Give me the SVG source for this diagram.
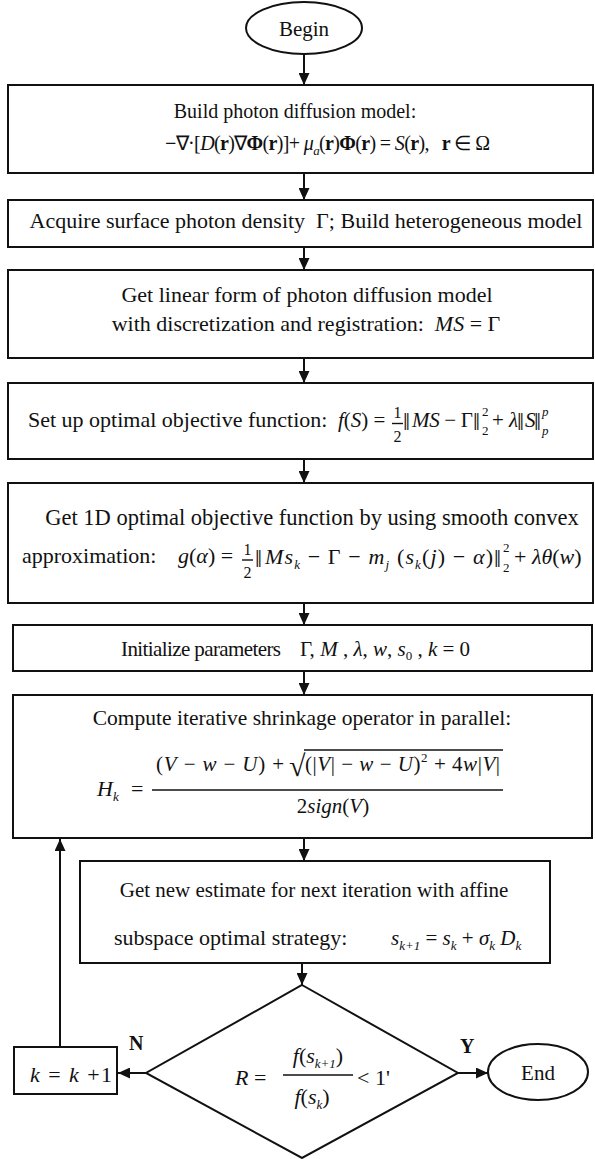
<svg xmlns="http://www.w3.org/2000/svg" width="595" height="1159" viewBox="0 0 595 1159">
<defs>
<marker id="ah" viewBox="0 0 12 11" refX="12" refY="5.5" markerWidth="12" markerHeight="11" markerUnits="userSpaceOnUse" orient="auto">
<path d="M0,0 L12,5.5 L0,11 z" fill="#111"/>
</marker>
</defs>
<style>
.b{fill:#fff;stroke:#111;stroke-width:2}
.t{font-family:"Liberation Serif","Times New Roman",serif;font-size:22px;fill:#111}
.i{font-style:italic}
.bd{font-weight:bold}
.s{font-size:13px}
.fr{font-size:16px}
.nb{font-size:25px}
.c{stroke:#111;stroke-width:2;fill:none}
.ln{stroke:#111;stroke-width:1.4}
</style>
<rect width="595" height="1159" fill="#fff"/>

<g id="connectors">
<line class="c" x1="304" y1="54" x2="304" y2="85" marker-end="url(#ah)"/>
<line class="c" x1="304" y1="173" x2="304" y2="200" marker-end="url(#ah)"/>
<line class="c" x1="304" y1="247" x2="304" y2="270" marker-end="url(#ah)"/>
<line class="c" x1="304" y1="358" x2="304" y2="383" marker-end="url(#ah)"/>
<line class="c" x1="304" y1="459" x2="304" y2="483" marker-end="url(#ah)"/>
<line class="c" x1="304" y1="603" x2="304" y2="625" marker-end="url(#ah)"/>
<line class="c" x1="304" y1="671" x2="304" y2="695" marker-end="url(#ah)"/>
<line class="c" x1="304" y1="838" x2="304" y2="861" marker-end="url(#ah)"/>
<line class="c" x1="302" y1="963" x2="302" y2="985" marker-end="url(#ah)"/>
<line class="c" x1="146" y1="1073" x2="118" y2="1073" marker-end="url(#ah)"/>
<line class="c" x1="458" y1="1073" x2="488" y2="1073" marker-end="url(#ah)"/>
<line class="c" x1="60" y1="1047" x2="60" y2="839" marker-end="url(#ah)"/>
<text class="t bd" x="129" y="1050" style="font-size:20px">N</text>
<text class="t bd" x="460" y="1053" style="font-size:20px">Y</text>
</g>

<g id="begin">
<ellipse class="b" cx="304" cy="28" rx="58" ry="26"/>
<text class="t" x="304" y="36" text-anchor="middle" style="font-size:21px">Begin</text>
</g>

<g id="build-model">
<rect class="b" x="8" y="85" width="585" height="88"/>
<text class="t" x="295" y="118" text-anchor="middle" style="font-size:20px">Build photon diffusion model:</text>
<text class="t" x="165" y="150" style="font-size:20px" textLength="325" lengthAdjust="spacing"><tspan class="bd">−</tspan>∇·[<tspan class="i">D</tspan>(<tspan class="bd">r</tspan>)∇<tspan class="bd">Φ</tspan>(<tspan class="bd">r</tspan>)]+ <tspan class="i">μ</tspan><tspan class="i s" dy="5">a</tspan><tspan dy="-5">(</tspan><tspan class="bd">r</tspan>)<tspan class="bd">Φ</tspan>(<tspan class="bd">r</tspan>) = <tspan class="i">S</tspan>(<tspan class="bd">r</tspan>),&#160;&#160;&#160;<tspan class="bd">r</tspan> ∈ Ω</text>
</g>

<g id="acquire">
<rect class="b" x="8" y="200" width="585" height="47"/>
<text class="t" x="306" y="228" text-anchor="middle">Acquire surface photon density&#160;&#160;Γ; Build heterogeneous model</text>
</g>

<g id="linear-form">
<rect class="b" x="8" y="270" width="585" height="88"/>
<text class="t" x="307" y="302" text-anchor="middle">Get linear form of photon diffusion model</text>
<text class="t" x="306" y="331" text-anchor="middle">with discretization and registration:&#160;&#160;<tspan class="i">MS</tspan> = Γ</text>
</g>

<g id="objective">
<rect class="b" x="8" y="383" width="585" height="76"/>
<text class="t" x="28" y="427">Set up optimal objective function:</text>
<text class="t" x="338" y="427" style="font-size:21px"><tspan class="i">f</tspan>(<tspan class="i">S</tspan>) =</text>
<text class="t fr" x="397.5" y="418" text-anchor="middle">1</text>
<line class="ln" x1="392" y1="423.5" x2="403" y2="423.5"/>
<text class="t fr" x="397.5" y="442" text-anchor="middle">2</text>
<text class="t nb" x="403" y="430">‖</text>
<text class="t" x="412" y="427" style="font-size:21px" textLength="61" lengthAdjust="spacing"><tspan class="i">MS</tspan> − Γ</text>
<text class="t nb" x="473" y="430">‖</text>
<text class="t s" x="482" y="416">2</text>
<text class="t s" x="482" y="435">2</text>
<text class="t" x="492" y="427" style="font-size:21px">+ <tspan class="i">λ</tspan></text>
<text class="t nb" x="517" y="430">‖</text>
<text class="t i" x="525" y="427" style="font-size:21px">S</text>
<text class="t nb" x="534" y="430">‖</text>
<text class="t s i" x="542" y="416">p</text>
<text class="t s i" x="542" y="435">p</text>
</g>

<g id="one-d">
<rect class="b" x="8" y="483" width="585" height="120"/>
<text class="t" x="312" y="525" text-anchor="middle" style="font-size:22.5px">Get 1D optimal objective function by using smooth convex</text>
<text class="t" x="22" y="563">approximation:</text>
<text class="t" x="178" y="563"><tspan class="i">g</tspan>(<tspan class="i">α</tspan>) =</text>
<text class="t fr" x="247.5" y="555" text-anchor="middle">1</text>
<line class="ln" x1="242" y1="560" x2="253" y2="560"/>
<text class="t fr" x="247.5" y="578" text-anchor="middle">2</text>
<text class="t nb" x="255" y="567">‖</text>
<text class="t" x="265" y="564" textLength="228" lengthAdjust="spacing"><tspan class="i">Ms</tspan><tspan class="i s" dy="5">k</tspan><tspan dy="-5"> − Γ − </tspan><tspan class="i">m</tspan><tspan class="i s" dy="5">j</tspan><tspan dy="-5"> (</tspan><tspan class="i">s</tspan><tspan class="i s" dy="5">k</tspan><tspan dy="-5">(</tspan><tspan class="i">j</tspan>) − <tspan class="i">α</tspan>)</text>
<text class="t nb" x="494" y="567">‖</text>
<text class="t s" x="503" y="552">2</text>
<text class="t s" x="503" y="572">2</text>
<text class="t" x="514" y="564">+ <tspan class="i">λθ</tspan>(<tspan class="i">w</tspan>)</text>
</g>

<g id="init">
<rect class="b" x="13" y="625" width="579" height="46"/>
<text class="t" x="121" y="656" style="font-size:21px" textLength="160" lengthAdjust="spacing">Initialize parameters</text>
<text class="t" x="300" y="656" style="font-size:21px">Γ, <tspan class="i">M</tspan> , <tspan class="i">λ</tspan>, <tspan class="i">w</tspan>, <tspan class="i">s</tspan><tspan class="s" dy="4">0</tspan><tspan dy="-4"> , </tspan><tspan class="i">k</tspan> = 0</text>
</g>

<g id="shrinkage">
<rect class="b" x="13" y="695" width="579" height="143"/>
<text class="t" x="302" y="725" text-anchor="middle" style="font-size:21.5px">Compute iterative shrinkage operator in parallel:</text>
<text class="t" x="97" y="796"><tspan class="i">H</tspan><tspan class="i s" dy="5">k</tspan></text>
<text class="t" x="131" y="796">=</text>
<text class="t" x="156" y="771" style="font-size:21px" textLength="128" lengthAdjust="spacing">(<tspan class="i">V</tspan> − <tspan class="i">w</tspan> − <tspan class="i">U</tspan>) +</text>
<text class="t" x="289" y="776" style="font-size:30px">√</text>
<line class="ln" x1="304" y1="750" x2="503" y2="750"/>
<text class="t" x="305" y="771" style="font-size:21px" textLength="195" lengthAdjust="spacing">(|<tspan class="i">V</tspan>| − <tspan class="i">w</tspan> − <tspan class="i">U</tspan>)<tspan class="s" dy="-9">2</tspan><tspan dy="9"> + 4</tspan><tspan class="i">w</tspan>|<tspan class="i">V</tspan>|</text>
<line class="ln" x1="152" y1="790" x2="503" y2="790"/>
<text class="t" x="333" y="813" text-anchor="middle" style="font-size:21px">2<tspan class="i">sign</tspan>(<tspan class="i">V</tspan>)</text>
</g>

<g id="affine">
<rect class="b" x="80" y="861" width="470" height="102"/>
<text class="t" x="314" y="897" text-anchor="middle" style="font-size:21px">Get new estimate for next iteration with affine</text>
<text class="t" x="114" y="945">subspace optimal strategy:</text>
<text class="t" x="391" y="945" style="font-size:21px"><tspan class="i">s</tspan><tspan class="i s" dy="5">k+1</tspan><tspan dy="-5"> = </tspan><tspan class="i">s</tspan><tspan class="i s" dy="5">k</tspan><tspan dy="-5"> + </tspan><tspan class="i">σ</tspan><tspan class="i s" dy="5">k</tspan><tspan dy="-5"> </tspan><tspan class="i">D</tspan><tspan class="i s" dy="5">k</tspan></text>
</g>

<g id="decision">
<polygon class="b" points="302,985 458,1073 302,1158 146,1073"/>
<text class="t" x="235" y="1085"><tspan class="i">R</tspan> =</text>
<text class="t" x="318" y="1063" text-anchor="middle"><tspan class="i">f</tspan>(<tspan class="i">s</tspan><tspan class="i s" dy="5">k+1</tspan><tspan dy="-5">)</tspan></text>
<line class="ln" x1="283" y1="1075" x2="353" y2="1075"/>
<text class="t" x="312" y="1104" text-anchor="middle"><tspan class="i">f</tspan>(<tspan class="i">s</tspan><tspan class="i s" dy="5">k</tspan><tspan dy="-5">)</tspan></text>
<text class="t" x="357" y="1085">&lt; 1'</text>
</g>

<g id="increment">
<rect class="b" x="14" y="1047" width="103" height="47"/>
<text class="t" x="30" y="1082" textLength="82" lengthAdjust="spacing"><tspan class="i">k</tspan> = <tspan class="i">k</tspan> +1</text>
</g>

<g id="end">
<ellipse class="b" cx="538" cy="1072" rx="50" ry="28"/>
<text class="t" x="538" y="1080" text-anchor="middle" style="font-size:21px">End</text>
</g>
</svg>
